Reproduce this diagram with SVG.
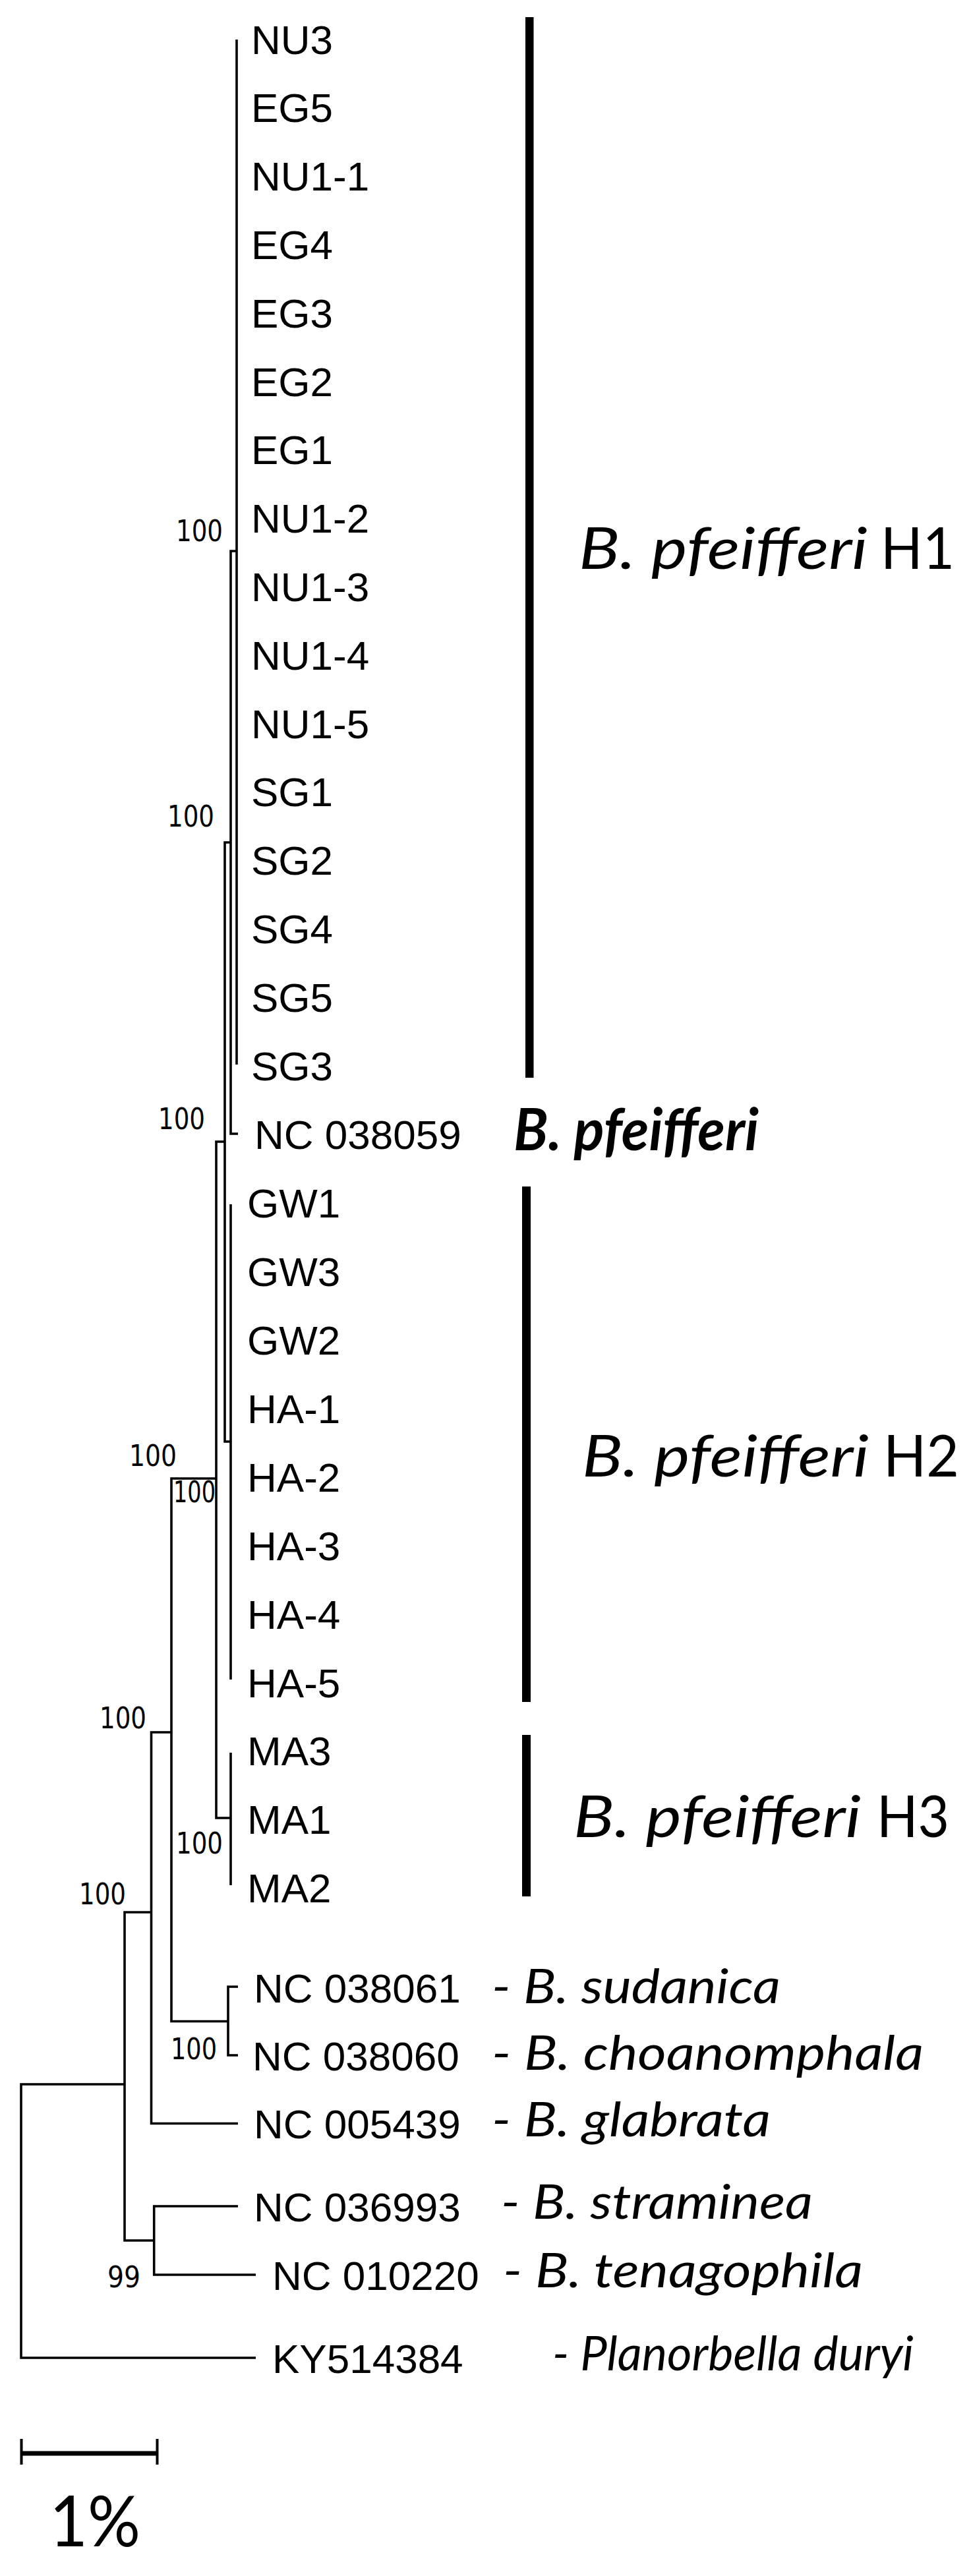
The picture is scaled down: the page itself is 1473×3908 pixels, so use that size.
<svg xmlns="http://www.w3.org/2000/svg" width="1473" height="3908" viewBox="0 0 1473 3908">
<style>
.tip{font-family:"Liberation Sans",Arial,sans-serif;font-size:62px;fill:#000}
.bs{font-family:"DejaVu Sans Condensed","DejaVu Sans",sans-serif;font-size:45px;fill:#000}
.sp{font-family:Lato,"Open Sans",sans-serif;font-style:italic;font-size:72px;fill:#000}
.cl{font-family:Lato,"Open Sans",sans-serif;font-size:88px;fill:#000}
.it{font-style:italic}
.bd{font-weight:bold;font-style:italic}
.br{fill:none;stroke:#000;stroke-width:3.6;stroke-linejoin:miter;stroke-linecap:butt}
.bar{fill:#000}
.sc{font-family:Lato,"Open Sans",sans-serif;font-size:107px;fill:#000}
</style>
<rect width="1473" height="3908" fill="#fff"/>
<g id="connectors">
<path class="br" d="M359,60 V1615"/>
<path class="br" d="M359,836 H350 V1720 H361"/>
<path class="br" d="M350,1278 H341 V2187 H350"/>
<path class="br" d="M350,1827 V2548"/>
<path class="br" d="M341,1732 H328 V2758 H350"/>
<path class="br" d="M350,2659 V2860"/>
<path class="br" d="M328,2243 H260 V3066.5 H346"/>
<path class="br" d="M361,3014 H346 V3118 H361"/>
<path class="br" d="M260,2628 H229.5 V3221.5 H361"/>
<path class="br" d="M229.5,2901 H189 V3399 H233.7"/>
<path class="br" d="M361,3347 H233.7 V3451 H388"/>
<path class="br" d="M189,3162 H32 V3577 H388"/>
</g>
<g id="support">
<text class="bs" x="267" y="821" textLength="71" lengthAdjust="spacingAndGlyphs">100</text>
<text class="bs" x="254" y="1254" textLength="71" lengthAdjust="spacingAndGlyphs">100</text>
<text class="bs" x="240" y="1713" textLength="71" lengthAdjust="spacingAndGlyphs">100</text>
<text class="bs" x="196" y="2224" textLength="72" lengthAdjust="spacingAndGlyphs">100</text>
<text class="bs" x="263" y="2279" textLength="64" lengthAdjust="spacingAndGlyphs">100</text>
<text class="bs" x="151" y="2622" textLength="71" lengthAdjust="spacingAndGlyphs">100</text>
<text class="bs" x="267" y="2812" textLength="71" lengthAdjust="spacingAndGlyphs">100</text>
<text class="bs" x="120" y="2889" textLength="71" lengthAdjust="spacingAndGlyphs">100</text>
<text class="bs" x="259" y="3124" textLength="70" lengthAdjust="spacingAndGlyphs">100</text>
<text class="bs" x="163" y="3470" textLength="50" lengthAdjust="spacingAndGlyphs">99</text>
</g>
<g id="tips-h1">
<g id="n-NU3"><text class="tip" x="381" y="81.5">NU3</text></g>
<g id="n-EG5"><text class="tip" x="381" y="185.3">EG5</text></g>
<g id="n-NU1-1"><text class="tip" x="381" y="289.1">NU1-1</text></g>
<g id="n-EG4"><text class="tip" x="381" y="392.9">EG4</text></g>
<g id="n-EG3"><text class="tip" x="381" y="496.7">EG3</text></g>
<g id="n-EG2"><text class="tip" x="381" y="600.5">EG2</text></g>
<g id="n-EG1"><text class="tip" x="381" y="704.3">EG1</text></g>
<g id="n-NU1-2"><text class="tip" x="381" y="808.1">NU1-2</text></g>
<g id="n-NU1-3"><text class="tip" x="381" y="911.9">NU1-3</text></g>
<g id="n-NU1-4"><text class="tip" x="381" y="1015.7">NU1-4</text></g>
<g id="n-NU1-5"><text class="tip" x="381" y="1119.5">NU1-5</text></g>
<g id="n-SG1"><text class="tip" x="381" y="1223.3">SG1</text></g>
<g id="n-SG2"><text class="tip" x="381" y="1327.1">SG2</text></g>
<g id="n-SG4"><text class="tip" x="381" y="1430.9">SG4</text></g>
<g id="n-SG5"><text class="tip" x="381" y="1534.7">SG5</text></g>
<g id="n-SG3"><text class="tip" x="381" y="1638.5">SG3</text></g>
</g>
<g id="n-NC038059"><text class="tip" x="386" y="1742.5">NC 038059</text></g>
<g id="tips-h2">
<g id="n-GW1"><text class="tip" x="375" y="1847.4">GW1</text></g>
<g id="n-GW3"><text class="tip" x="375" y="1951">GW3</text></g>
<g id="n-GW2"><text class="tip" x="375" y="2054.7">GW2</text></g>
<g id="n-HA-1"><text class="tip" x="375" y="2159">HA-1</text></g>
<g id="n-HA-2"><text class="tip" x="375" y="2263">HA-2</text></g>
<g id="n-HA-3"><text class="tip" x="375" y="2367">HA-3</text></g>
<g id="n-HA-4"><text class="tip" x="375" y="2471">HA-4</text></g>
<g id="n-HA-5"><text class="tip" x="375" y="2574.7">HA-5</text></g>
</g>
<g id="tips-h3">
<g id="n-MA3"><text class="tip" x="375" y="2678.4">MA3</text></g>
<g id="n-MA1"><text class="tip" x="375" y="2782.4">MA1</text></g>
<g id="n-MA2"><text class="tip" x="375" y="2885.6">MA2</text></g>
</g>
<g id="n-NC038061"><text class="tip" x="385" y="3038">NC 038061</text><text class="sp" x="746" y="3038.6" textLength="438" lengthAdjust="spacingAndGlyphs">- B. sudanica</text></g>
<g id="n-NC038060"><text class="tip" x="383" y="3141">NC 038060</text><text class="sp" x="746" y="3140" textLength="655" lengthAdjust="spacingAndGlyphs">- B. choanomphala</text></g>
<g id="n-NC005439"><text class="tip" x="385" y="3244.4">NC 005439</text><text class="sp" x="746" y="3240.5" textLength="423" lengthAdjust="spacingAndGlyphs">- B. glabrata</text></g>
<g id="n-NC036993"><text class="tip" x="385" y="3370">NC 036993</text><text class="sp" x="760" y="3366" textLength="473" lengthAdjust="spacingAndGlyphs">- B. straminea</text></g>
<g id="n-NC010220"><text class="tip" x="413" y="3474">NC 010220</text><text class="sp" x="763" y="3469.8" textLength="546" lengthAdjust="spacingAndGlyphs">- B. tenagophila</text></g>
<g id="n-KY514384"><text class="tip" x="413" y="3600">KY514384</text><text class="sp" x="838" y="3596" textLength="548" lengthAdjust="spacingAndGlyphs">- Planorbella duryi</text></g>
<g id="clade-H1">
<rect class="bar" x="797" y="26" width="12.5" height="1609"/>
<text class="cl it" x="878" y="863" textLength="438" lengthAdjust="spacingAndGlyphs">B. pfeifferi</text>
<text class="cl" x="1336" y="863" textLength="112" lengthAdjust="spacingAndGlyphs">H1</text>
</g>
<g id="label-pfeifferi"><text class="cl bd" x="779" y="1745" textLength="372" lengthAdjust="spacingAndGlyphs">B. pfeifferi</text></g>
<g id="clade-H2">
<rect class="bar" x="792" y="1800" width="13" height="782"/>
<text class="cl it" x="883" y="2240" textLength="435" lengthAdjust="spacingAndGlyphs">B. pfeifferi</text>
<text class="cl" x="1340" y="2240" textLength="115" lengthAdjust="spacingAndGlyphs">H2</text>
</g>
<g id="clade-H3">
<rect class="bar" x="792" y="2632" width="13" height="245"/>
<text class="cl it" x="870" y="2787" textLength="436" lengthAdjust="spacingAndGlyphs">B. pfeifferi</text>
<text class="cl" x="1330" y="2787" textLength="110" lengthAdjust="spacingAndGlyphs">H3</text>
</g>
<g id="scalebar">
<path class="br" d="M32,3722 H238" style="stroke-width:7"/>
<path class="br" d="M32.5,3700 V3739 M238.5,3700 V3739" style="stroke-width:4"/>
<text class="sc" x="75" y="3863" textLength="138" lengthAdjust="spacingAndGlyphs">1%</text>
</g>
</svg>
